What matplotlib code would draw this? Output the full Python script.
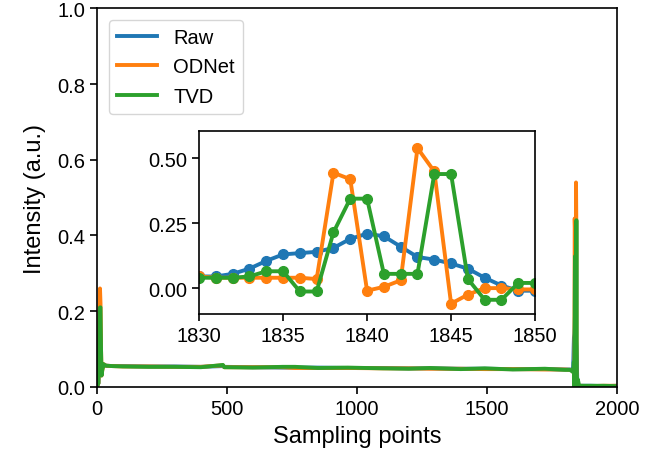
import matplotlib
matplotlib.use("Agg")
import matplotlib.pyplot as plt
from matplotlib.ticker import FormatStrFormatter

plt.rcParams['font.family'] = ['Liberation Sans', 'DejaVu Sans']

# ---- data ----
# sparse sampling points for the long, flat parts
x_start = [0, 6, 10, 12, 14, 16, 18, 21, 26, 35, 60]
raw_start = [0.0, 0.01, 0.10, 0.16, 0.12, 0.07, 0.04, 0.05, 0.058, 0.056, 0.055]
odnet_start = [0.0, 0.01, 0.20, 0.26, 0.22, 0.10, 0.03, 0.045, 0.06, 0.056, 0.055]
tvd_start = [0.0, 0.01, 0.17, 0.21, 0.21, 0.10, 0.03, 0.045, 0.06, 0.056, 0.055]

x_base = [100, 200, 300, 400, 485, 490, 600, 715, 762, 850, 965, 1100, 1200,
          1281, 1400, 1492, 1600, 1723, 1800, 1820]
raw_base = [0.055, 0.054, 0.054, 0.053, 0.055, 0.053, 0.052, 0.051, 0.051, 0.051,
            0.050, 0.050, 0.049, 0.049, 0.048, 0.048, 0.047, 0.047, 0.046, 0.046]
odnet_base = [0.054, 0.054, 0.053, 0.053, 0.057, 0.052, 0.052, 0.052, 0.050, 0.050,
              0.050, 0.049, 0.049, 0.048, 0.048, 0.047, 0.047, 0.046, 0.046, 0.045]
tvd_base = [0.054, 0.053, 0.053, 0.052, 0.058, 0.052, 0.051, 0.053, 0.053, 0.050,
            0.051, 0.049, 0.048, 0.050, 0.047, 0.049, 0.046, 0.048, 0.045, 0.045]

x_peak = list(range(1830, 1851))
raw_peak = [0.045, 0.045, 0.055, 0.075, 0.105, 0.13, 0.135, 0.14, 0.155, 0.19, 0.21,
            0.20, 0.16, 0.12, 0.11, 0.095, 0.075, 0.04, 0.01, -0.01, -0.01]
odnet_peak = [0.045, 0.04, 0.04, 0.04, 0.04, 0.04, 0.04, 0.035, 0.445, 0.42, -0.01,
              0.005, 0.03, 0.54, 0.45, -0.06, -0.025, 0.0, 0.0, -0.005, -0.005]
tvd_peak = [0.04, 0.04, 0.04, 0.045, 0.065, 0.065, -0.013, -0.013, 0.215, 0.345, 0.345,
            0.055, 0.055, 0.055, 0.44, 0.44, 0.035, -0.045, -0.045, 0.02, 0.02]

x_end = [1855, 1900, 1950, 2000]
raw_end = [0.003, 0.003, 0.002, 0.003]
odnet_end = [0.003, 0.002, 0.003, 0.003]
tvd_end = [0.003, 0.003, 0.003, 0.002]

x_all = x_start + x_base + x_peak + x_end
series = {
    'Raw': raw_start + raw_base + raw_peak + raw_end,
    'ODNet': odnet_start + odnet_base + odnet_peak + odnet_end,
    'TVD': tvd_start + tvd_base + tvd_peak + tvd_end,
}
colors = {'Raw': '#1f77b4', 'ODNet': '#ff7f0e', 'TVD': '#2ca02c'}

fig = plt.figure(figsize=(6.59, 4.64), dpi=100)
ax = fig.add_axes([0.147, 0.164, 0.789, 0.816])
for name, vals in series.items():
    ax.plot(x_all, vals, color=colors[name], lw=2.8, label=name)
ax.set_xlim(0, 2000)
ax.set_ylim(0, 1.0)
ax.set_xticks([0, 500, 1000, 1500, 2000])
ax.set_yticks([0.0, 0.2, 0.4, 0.6, 0.8, 1.0])
ax.set_xlabel('Sampling points', fontsize=17, labelpad=5)
ax.set_ylabel('Intensity (a.u.)', fontsize=17, labelpad=8)
ax.tick_params(labelsize=14.5, width=1.2, length=5)
for s in ax.spines.values():
    s.set_linewidth(1.2)
ax.legend(loc='upper left', fontsize=14.5, framealpha=0.8, borderaxespad=0.6)

ins = fig.add_axes([0.302, 0.321, 0.51, 0.394])
for name, vals in series.items():
    ins.plot(x_all, vals, color=colors[name], lw=2.8, marker='o', markersize=7)
ins.set_xlim(1830, 1850)
ins.set_ylim(-0.1, 0.605)
ins.set_xticks([1830, 1835, 1840, 1845, 1850])
ins.set_yticks([0.0, 0.25, 0.5])
ins.yaxis.set_major_formatter(FormatStrFormatter('%.2f'))
ins.tick_params(labelsize=14.5, width=1.2, length=5)
for s in ins.spines.values():
    s.set_linewidth(1.2)

fig.savefig('out.png', dpi=100)
